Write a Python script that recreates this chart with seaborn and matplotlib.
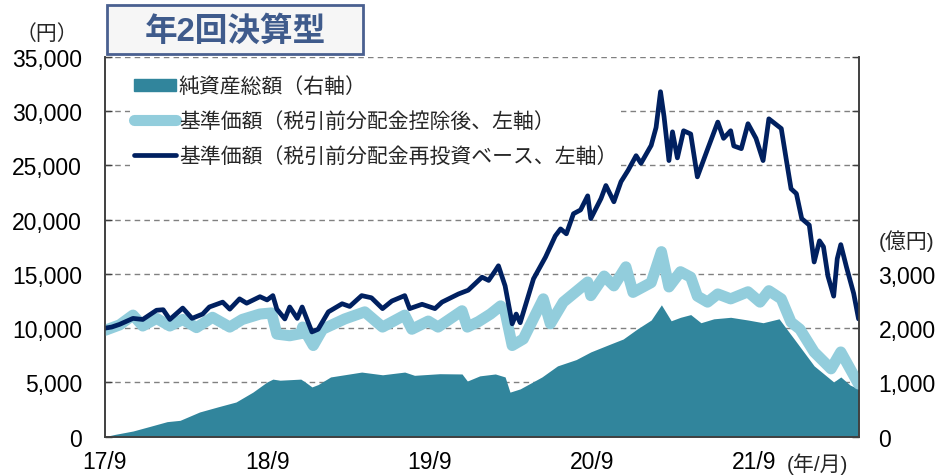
import pandas as pd
import seaborn as sns
import matplotlib.pyplot as plt
import matplotlib.patches as mpatches
from matplotlib.lines import Line2D
from matplotlib.ticker import FuncFormatter

# Base price, distributions reinvested (yen, left axis)
re_dates = ["2017-09-01", "2017-09-16", "2017-10-04", "2017-11-03", "2017-11-25", "2017-12-26",
            "2018-01-10", "2018-01-25", "2018-02-23", "2018-03-16", "2018-04-09", "2018-04-24",
            "2018-05-24", "2018-06-09", "2018-07-01", "2018-07-17", "2018-08-16", "2018-09-01",
            "2018-09-14", "2018-09-23", "2018-10-11", "2018-10-22", "2018-11-08", "2018-11-19",
            "2018-12-11", "2018-12-25", "2019-01-17", "2019-02-17", "2019-03-06", "2019-04-02",
            "2019-04-24", "2019-05-19", "2019-06-09", "2019-07-08", "2019-07-19", "2019-08-16",
            "2019-09-14", "2019-09-30", "2019-11-06", "2019-11-28", "2019-12-29", "2020-01-13",
            "2020-01-28", "2020-02-04", "2020-02-19", "2020-03-06", "2020-03-15", "2020-03-24",
            "2020-04-23", "2020-05-20", "2020-06-11", "2020-06-23", "2020-07-06", "2020-07-22",
            "2020-08-07", "2020-08-23", "2020-08-30", "2020-09-22", "2020-10-03", "2020-10-21",
            "2020-11-06", "2020-11-22", "2020-12-10", "2020-12-21", "2021-01-13", "2021-01-24",
            "2021-02-03", "2021-02-11", "2021-02-22", "2021-03-02", "2021-03-13", "2021-03-27",
            "2021-04-12", "2021-04-27", "2021-05-20", "2021-06-12", "2021-06-25", "2021-07-11",
            "2021-07-18", "2021-08-04", "2021-08-19", "2021-09-06", "2021-09-22", "2021-10-05",
            "2021-11-02", "2021-11-13", "2021-11-24", "2021-12-06", "2021-12-18", "2022-01-04",
            "2022-01-15", "2022-01-27", "2022-02-05", "2022-02-15", "2022-02-28", "2022-03-08",
            "2022-03-16", "2022-03-29", "2022-04-14", "2022-04-25"]
re_values = [10000, 10100, 10350, 10900, 10800, 11650,
             11700, 10800, 11850, 10900, 11300, 11950,
             12400, 11750, 12700, 12300, 12900, 12600,
             13000, 11750, 10850, 11950, 10900, 11950,
             9650, 9900, 11500, 12250, 12000, 13000,
             12800, 11800, 12500, 13000, 11800, 12200,
             11800, 12400, 13150, 13500, 14700, 14400,
             15300, 15750, 13900, 10400, 11300, 10500,
             14550, 16550, 18500, 19150, 18700, 20550,
             20900, 22200, 20100, 21950, 23150, 21650,
             23500, 24550, 25900, 25200, 26850, 28500,
             31800, 29500, 25450, 28100, 25700, 28200,
             27900, 23950, 26500, 29000, 27500, 28200,
             26800, 26550, 28850, 27500, 25450, 29300,
             28400, 25600, 22850, 22400, 20100, 19500,
             16100, 18050, 17500, 14800, 12950, 16400,
             17700, 15600, 13200, 10850]

# Base price after distributions (yen, left axis)
nav_dates = ["2017-09-01", "2017-10-04", "2017-11-03", "2017-11-25", "2017-12-26", "2018-01-25",
             "2018-02-23", "2018-03-26", "2018-05-01", "2018-06-09", "2018-07-07", "2018-08-16",
             "2018-09-11", "2018-09-23", "2018-10-22", "2018-11-16", "2018-11-20", "2018-12-14",
             "2019-01-04", "2019-02-23", "2019-04-09", "2019-05-19", "2019-07-08", "2019-07-24",
             "2019-08-30", "2019-09-21", "2019-11-14", "2019-11-26", "2019-12-21", "2020-01-17",
             "2020-02-09", "2020-02-19", "2020-03-06", "2020-03-31", "2020-05-15", "2020-05-31",
             "2020-06-29", "2020-08-23", "2020-08-30", "2020-09-29", "2020-10-21", "2020-11-17",
             "2020-12-03", "2021-01-13", "2021-02-05", "2021-02-22", "2021-03-20", "2021-04-12",
             "2021-04-27", "2021-05-20", "2021-06-12", "2021-07-11", "2021-08-19", "2021-09-15",
             "2021-10-05", "2021-11-02", "2021-11-24", "2021-12-14", "2022-01-15", "2022-02-22",
             "2022-03-16", "2022-04-25"]
nav_values = [9800, 10300, 11200, 10200, 10900, 10200,
              10800, 10050, 11000, 10100, 10800, 11300,
              11400, 9450, 9300, 9500, 10100, 8400,
              9900, 10850, 11500, 10100, 11200, 9900,
              10650, 10100, 11600, 10100, 10600, 11300,
              12050, 11500, 8400, 9000, 12700, 10400,
              12400, 14250, 13000, 14800, 13900, 15650,
              13300, 14200, 17050, 13800, 15200, 14700,
              12950, 12400, 13150, 12700, 13350, 12400,
              13450, 12700, 10550, 9900, 7800, 6250,
              7800, 4850]

# Net assets (100 million yen, right axis)
aum_dates = ["2017-09-01", "2017-09-23", "2017-11-03", "2017-12-12", "2018-01-19", "2018-02-17",
             "2018-04-02", "2018-05-14", "2018-06-23", "2018-07-31", "2018-09-01", "2018-09-14",
             "2018-09-30", "2018-11-16", "2018-11-27", "2018-12-11", "2018-12-25", "2019-01-22",
             "2019-04-02", "2019-05-19", "2019-07-08", "2019-07-30", "2019-09-25", "2019-11-14",
             "2019-11-26", "2019-12-24", "2020-01-28", "2020-02-19", "2020-03-01", "2020-03-24",
             "2020-05-12", "2020-06-16", "2020-07-28", "2020-08-30", "2020-10-11", "2020-11-11",
             "2020-12-13", "2021-01-13", "2021-02-05", "2021-02-27", "2021-03-20", "2021-04-12",
             "2021-05-05", "2021-06-03", "2021-07-11", "2021-08-19", "2021-09-22", "2021-10-28",
             "2021-12-01", "2022-01-15", "2022-02-28", "2022-03-16", "2022-04-06", "2022-04-25"]
aum_values = [0, 40, 103, 190, 276, 300,
              454, 550, 638, 820, 1008, 1060,
              1040, 1060, 1000, 916, 960, 1100,
              1190, 1140, 1190, 1130, 1160, 1155,
              1025, 1120, 1155, 1100, 820, 880,
              1100, 1304, 1420, 1562, 1700, 1800,
              1987, 2150, 2430, 2136, 2200, 2250,
              2100, 2172, 2200, 2150, 2100, 2172,
              1800, 1304, 1008, 1100, 950, 880]

tick_dates = ["2017-09-01", "2018-09-01", "2019-09-01", "2020-09-01", "2021-09-01"]
tick_labels = ["17/9", "18/9", "19/9", "20/9", "21/9"]

labels = ["純資産総額（右軸）",
          "基準価額（税引前分配金控除後、左軸）",
          "基準価額（税引前分配金再投資ベース、左軸）"]

c_area = "#31859c"
c_nav = "#92cddc"
c_re = "#002060"

sns.set_theme(style="white")
plt.rcParams['font.family'] = ['Liberation Sans', 'Noto Sans CJK JP', 'DejaVu Sans']

fig = plt.figure(figsize=(9.44, 4.77), dpi=100)
ax = fig.add_axes([105 / 944, 1 - 437.6 / 477, 754 / 944, 379.6 / 477])
ax2 = ax.twinx()

# area on the primary axes (right scale), lines on twin (left scale)
ad = pd.to_datetime(aum_dates)
ax.fill_between(ad, 0, aum_values, color=c_area, lw=0, zorder=1)
ax.set_ylim(0, 7000)
ax.set_yticks(range(0, 7001, 1000))
ax.yaxis.tick_right()
ax.yaxis.set_major_formatter(FuncFormatter(lambda v, p: f"{int(v):,}" if v <= 3000 else ""))
ax.set_axisbelow(True)
ax.grid(axis='y', color='#808080', linestyle=(0, (4, 3)), linewidth=1)

sns.lineplot(x=pd.to_datetime(nav_dates), y=nav_values, ax=ax2, color=c_nav, lw=8,
             solid_capstyle='round', solid_joinstyle='round')
sns.lineplot(x=pd.to_datetime(re_dates), y=re_values, ax=ax2, color=c_re, lw=3.4,
             solid_joinstyle='round')
ax2.set_ylim(0, 35000)
ax2.set_yticks(range(0, 35001, 5000))
ax2.yaxis.tick_left()
ax2.yaxis.set_major_formatter(FuncFormatter(lambda v, p: f"{int(v):,}"))
ax2.set_ylabel("")

ax.set_xlim(pd.Timestamp("2017-09-01"), pd.Timestamp("2022-04-26"))
ax.set_xticks(pd.to_datetime(tick_dates))
ax.set_xticklabels(tick_labels)

for a in (ax, ax2):
    a.spines['top'].set_visible(False)
    for s in ('left', 'right', 'bottom'):
        a.spines[s].set_color('#404040')
        a.spines[s].set_linewidth(1.2)
    a.tick_params(axis='both', direction='in', length=5, width=1, colors='#404040',
                  labelcolor='black', labelsize=16.5)
ax.tick_params(axis='x', pad=10, length=6)
ax.tick_params(axis='y', pad=14)
ax2.tick_params(axis='y', pad=16.5)

handles = [mpatches.Patch(color=c_area),
           Line2D([], [], color=c_nav, lw=8, solid_capstyle='round'),
           Line2D([], [], color=c_re, lw=3.4)]
leg = ax2.legend(handles, labels, loc='upper left', bbox_to_anchor=(0.033, 0.96),
                 fontsize=15, frameon=True, facecolor='white', edgecolor='none',
                 framealpha=1, handlelength=2.0, handleheight=0.5, handletextpad=0.15,
                 labelspacing=0.72, borderpad=0.2, borderaxespad=0)
leg.set_zorder(5)

fig.text(47 / 944, 1 - 34 / 477, "（円）", ha='center', va='center', fontsize=15)
fig.text(907 / 944, 1 - 241 / 477, "(億円)", ha='center', va='center', fontsize=15)
fig.text(817 / 944, 1 - 464 / 477, "(年/月)", ha='center', va='center', fontsize=15)

box = mpatches.Rectangle((107 / 944, 1 - 55 / 477), 256 / 944, 49 / 477,
                         transform=fig.transFigure, facecolor='#f6f6f6',
                         edgecolor='#4a6090', lw=2)
fig.add_artist(box)
fig.text(235 / 944, 1 - 32 / 477, "年2回決算型", ha='center', va='center',
         fontsize=23.5, fontweight='bold', color='#3f5b8c')

fig.savefig("out.png", dpi=100)
